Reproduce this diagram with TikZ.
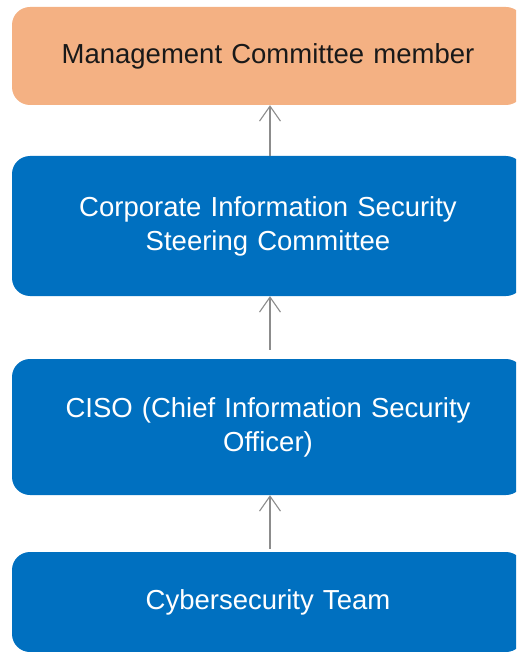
\documentclass[tikz,border=0pt]{standalone}
\usepackage{fontspec}
\setmainfont{Liberation Sans}
\usetikzlibrary{arrows.meta}
\definecolor{mgmt}{HTML}{F4B183}
\definecolor{secblue}{HTML}{0070C0}
\definecolor{linkgray}{HTML}{8C8C8C}
\begin{document}
\begin{tikzpicture}[x=1pt,y=-1pt,
  tier/.style={rounded corners=18pt, minimum width=512pt, inner sep=0pt,
    align=center, font=\fontsize{27.5}{34}\selectfont, text width=500pt},
  orangetier/.style={tier, fill=mgmt, text=black!90},
  bluetier/.style={tier, fill=secblue, text=white},
  link/.style={draw=linkgray, line width=1.3pt,
    -{Straight Barb[length=15pt,width=21pt,line width=1.1pt]}}]
\useasboundingbox (0,0) rectangle (516,652);
% the four tiers run past the right edge and are cut off there
\begin{scope}
\clip (0,0) rectangle (516,652);
\node[orangetier, minimum height=98pt] (mgmt) at (268,56) {Management Committee member};
\node[bluetier, minimum height=140pt] (steer) at (268,226) {Corporate Information Security\\Steering Committee};
\node[bluetier, minimum height=136pt] (ciso) at (268,427) {CISO (Chief Information Security\\Officer)};
\node[bluetier, minimum height=100pt] (team) at (268,602) {Cybersecurity Team};
\end{scope}
% reporting lines, each pointing up to the next tier
\draw[link] (steer.north -| 270,0) -- (mgmt.south -| 270,0);
\draw[link, shorten <=9pt] (ciso.north -| 270,0) -- (steer.south -| 270,0);
\draw[link, shorten <=3pt] (team.north -| 270,0) -- (ciso.south -| 270,0);
\end{tikzpicture}
\end{document}
